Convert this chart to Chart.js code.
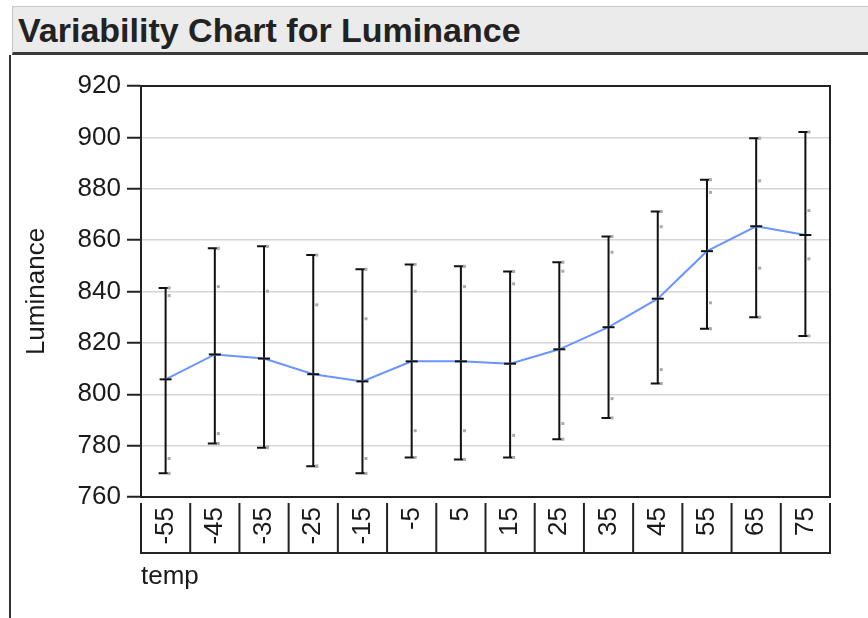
<!DOCTYPE html>
<html>
<head>
<meta charset="utf-8">
<title>Variability Chart for Luminance</title>
<script src="https://cdn.jsdelivr.net/npm/chart.js@4/dist/chart.umd.min.js"></script>
<style>
  body { margin: 0; background: #fff; }
  #wrap { position: relative; width: 868px; height: 618px; overflow: hidden; }
  #titleBar {
    position: absolute; left: 12px; top: 6px; width: 856px; height: 49px;
    background: #ebebeb; border-top: 1px solid #c8c8c8; border-left: 1px solid #c8c8c8;
    border-bottom: 3px solid #3a3a3a;
    font: bold 34px "Liberation Sans", Arial, sans-serif; color: #222;
    line-height: 47px; padding-left: 5px; box-sizing: border-box;
  }
  #frame { position: absolute; left: 9px; top: 55px; width: 2px; height: 570px; background: #333; }
  canvas { position: absolute; left: 0; top: 0; }
</style>
</head>
<body>
<div id="wrap">
  <canvas id="varChart" width="868" height="618"></canvas>
  <div id="titleBar">Variability Chart for Luminance</div>
  <div id="frame"></div>
</div>
<script>
// 値
const temps = ['-55', '-45', '-35', '-25', '-15', '-5', '5', '15', '25', '35', '45', '55', '65', '75'];
const meanLum = [805.8, 815.5, 813.9, 807.8, 805.0, 812.8, 812.8, 811.9, 817.5, 826.1, 837.2, 855.7, 865.4, 862.0];
const maxLum = [841.4, 856.8, 857.6, 854.2, 848.7, 850.5, 849.8, 847.8, 851.4, 861.4, 871.1, 883.5, 899.7, 902.1];
const minLum = [769.2, 780.8, 779.2, 772.0, 769.2, 775.4, 774.6, 775.4, 782.5, 790.8, 804.2, 825.5, 830.0, 822.7];
// 内側の測定点（灰色）
const innerHi = [838.4, 841.9, 840.1, 834.8, 829.4, 840.1, 841.9, 843.0, 847.9, 855.3, 865.2, 878.6, 883.1, 871.5];
const innerLo = [775.0, 784.7, 779.5, 772.0, 775.0, 785.8, 785.8, 784.0, 788.6, 798.3, 809.6, 835.6, 849.1, 852.7];
const yTicks = [760, 780, 800, 820, 840, 860, 880, 900, 920];

const FONT = '"Liberation Sans", Arial, sans-serif';

// エラーバー（範囲）を描く
const rangeBars = {
    id: 'rangeBars',
    beforeDatasetsDraw(chart) {
        const ctx = chart.ctx;
        const xs = chart.scales.x, ys = chart.scales.y;
        ctx.save();
        for (let i = 0; i < temps.length; i++) {
            const x = xs.getPixelForValue(i);
            const yTop = ys.getPixelForValue(maxLum[i]);
            const yBot = ys.getPixelForValue(minLum[i]);
            ctx.strokeStyle = '#111';
            ctx.lineWidth = 2;
            ctx.beginPath();
            ctx.moveTo(x, yTop); ctx.lineTo(x, yBot);
            ctx.moveTo(x - 7, yTop); ctx.lineTo(x + 4, yTop);
            ctx.moveTo(x - 7, yBot); ctx.lineTo(x + 4, yBot);
            ctx.stroke();
            // 灰色の測定点
            ctx.fillStyle = '#aaa';
            [maxLum[i], innerHi[i], innerLo[i], minLum[i]].forEach(v => {
                const y = ys.getPixelForValue(v);
                ctx.fillRect(x + 2, y - 1.5, 3, 3);
            });
        }
        ctx.restore();
    },
    afterDraw(chart) {
        const ctx = chart.ctx;
        const a = chart.chartArea;
        const xs = chart.scales.x;
        ctx.save();
        ctx.strokeStyle = '#222';
        ctx.lineWidth = 2;
        // プロット枠
        ctx.strokeRect(a.left, a.top, a.right - a.left, a.bottom - a.top);
        // ラベル枠
        const bTop = a.bottom + 6, bBot = a.bottom + 56;
        ctx.beginPath();
        ctx.moveTo(a.left, bTop); ctx.lineTo(a.left, bBot); ctx.lineTo(a.right, bBot); ctx.lineTo(a.right, bTop);
        for (let i = 0; i < temps.length - 1; i++) {
            const xm = (xs.getPixelForValue(i) + xs.getPixelForValue(i + 1)) / 2;
            ctx.moveTo(xm, bTop); ctx.lineTo(xm, bBot);
        }
        ctx.stroke();
        ctx.restore();
    }
};

const ctx = document.getElementById('varChart').getContext('2d');
const chart = new Chart(ctx, {
    type: 'line',
    data: {
        labels: temps,
        datasets: [{
            label: 'Luminance',
            data: meanLum,
            borderColor: '#6a94ff',
            borderWidth: 2,
            tension: 0,
            pointStyle: 'line',
            pointRadius: 6,
            pointBorderColor: '#111',
            pointBorderWidth: 2
        }]
    },
    options: {
        responsive: false,
        animation: false,
        layout: { padding: { left: 12, right: 38, top: 86, bottom: 10 } },
        plugins: {
            legend: { display: false },
            tooltip: { enabled: false }
        },
        scales: {
            x: {
                offset: true,
                afterFit(scale) { scale.height = 111; },
                grid: { display: false, drawTicks: false },
                border: { display: false },
                ticks: {
                    autoSkip: false,
                    minRotation: 90,
                    maxRotation: 90,
                    padding: 10,
                    color: '#1a1a1a',
                    font: { family: FONT, size: 26 }
                },
                title: {
                    display: true,
                    text: 'temp',
                    align: 'start',
                    color: '#1a1a1a',
                    font: { family: FONT, size: 26 },
                    padding: { top: 0, bottom: 16 }
                }
            },
            y: {
                min: 760,
                max: 920,
                afterFit(scale) { scale.width = 129; },
                afterBuildTicks(scale) { scale.ticks = yTicks.map(v => ({ value: v })); },
                grid: { color: '#d6d6d6', lineWidth: 1.5, tickColor: '#222', tickLength: 14, tickWidth: 2 },
                border: { color: '#222', width: 2 },
                ticks: {
                    padding: 6,
                    color: '#1a1a1a',
                    font: { family: FONT, size: 26 }
                },
                title: {
                    display: true,
                    text: 'Luminance',
                    color: '#1a1a1a',
                    font: { family: FONT, size: 26 },
                    padding: { top: 9, bottom: 0 }
                }
            }
        }
    },
    plugins: [rangeBars]
});
</script>
</body>
</html>
